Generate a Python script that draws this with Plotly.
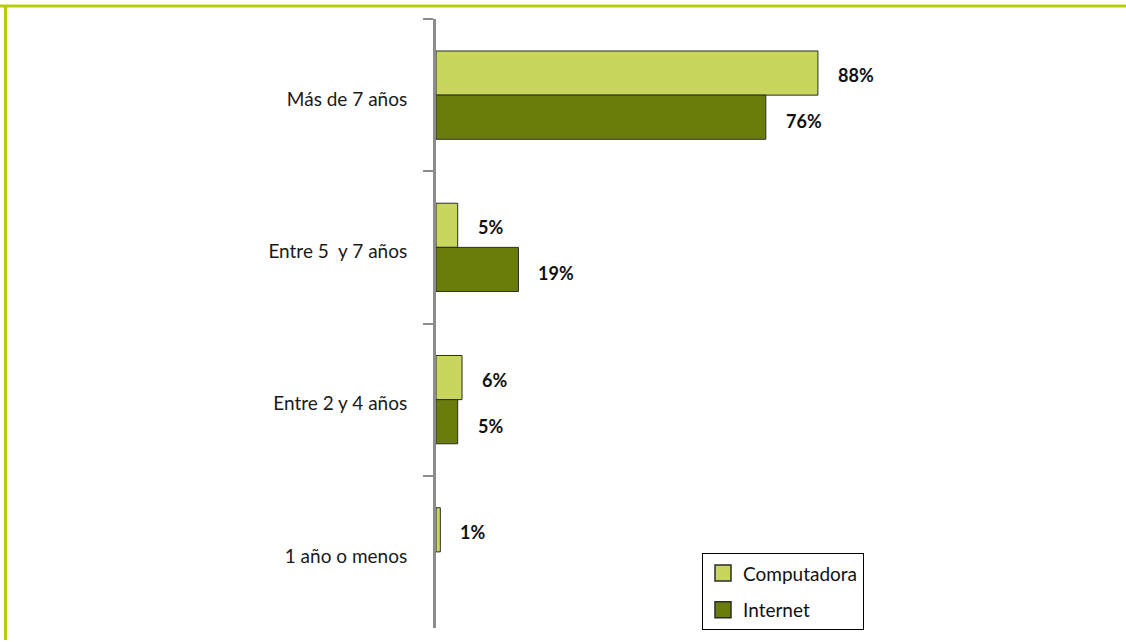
import plotly.graph_objects as go

# Categories (top to bottom) and shares per series
categories = ["Más de 7 años", "Entre 5  y 7 años", "Entre 2 y 4 años", "1 año o menos"]
computadora = [0.88, 0.05, 0.06, 0.01]
internet = [0.76, 0.19, 0.05, None]
series_names = ["Computadora", "Internet"]
series_colors = ["#c9d65e", "#6a7d0c"]

W, H = 1126, 642
ML, MR, MT, MB = 436, 256, 19, 12
PW = W - ML - MR
PH = H - MT - MB

FONT = "Lato, 'Open Sans', sans-serif"
OUTLINE = "#2b2b2b"

fig = go.Figure()
for name, vals, col in zip(series_names, [computadora, internet], series_colors):
    fig.add_trace(go.Bar(
        y=categories, x=vals, name=name, orientation="h", showlegend=False,
        marker=dict(color=col, line=dict(color=OUTLINE, width=1)),
    ))

# Legend entries with larger square swatches
for name, col in zip(series_names, series_colors):
    fig.add_trace(go.Scatter(
        x=[None], y=[None], mode="markers", name=name, legendgroup=name,
        marker=dict(symbol="square", size=18, color=col,
                    line=dict(color=OUTLINE, width=1.5)),
    ))

# Value labels placed just right of each bar end
annotations = []
for idx, vals in enumerate([computadora, internet]):
    for cat, v in zip(categories, vals):
        if v is None:
            continue
        annotations.append(dict(
            x=v, y=cat, xref="x", yref="y", text=f"<b>{round(v * 100)}%</b>",
            showarrow=False, xanchor="left", xshift=18,
            yshift=(20 if idx == 0 else -26),
            font=dict(size=18, color="#111", family=FONT),
        ))

# Frame lines on the top and left edges of the page
def px_x(p):
    return (p - ML) / PW

def px_y(p):
    return 1 - (p - MT) / PH

shapes = [
    dict(type="line", xref="paper", yref="paper", x0=px_x(0), x1=px_x(W),
         y0=px_y(6), y1=px_y(6), line=dict(color="#b9cd06", width=3)),
    dict(type="line", xref="paper", yref="paper", x0=px_x(5.5), x1=px_x(5.5),
         y0=px_y(5), y1=px_y(H), line=dict(color="#b9cd06", width=3)),
]

fig.update_layout(
    width=W, height=H,
    margin=dict(l=ML, r=MR, t=MT, b=MB),
    paper_bgcolor="white", plot_bgcolor="white",
    barmode="group", bargap=0.42, bargroupgap=0,
    font=dict(family=FONT, size=19, color="#1a1a1a"),
    xaxis=dict(range=[0, 1], visible=False, showgrid=False, zeroline=False),
    yaxis=dict(
        categoryorder="array", categoryarray=categories, autorange="reversed",
        showline=True, linecolor="#8c8c8c", linewidth=3,
        ticks="outside", tickson="boundaries", ticklen=10, tickwidth=2,
        tickcolor="#8c8c8c", ticklabelstandoff=22, ticklabelshift=-4,
        showgrid=False,
        tickfont=dict(size=19, family=FONT, color="#1a1a1a"),
    ),
    legend=dict(
        x=px_x(702), y=px_y(555), xanchor="left", yanchor="top",
        bordercolor="#000", borderwidth=1, bgcolor="white",
        traceorder="grouped", font=dict(size=19, family=FONT, color="#111"),
        itemwidth=30, tracegroupgap=9, itemsizing="trace",
        entrywidth=135, entrywidthmode="pixels",
    ),
    annotations=annotations,
    shapes=shapes,
    showlegend=True,
)

fig.write_html("out.html")
